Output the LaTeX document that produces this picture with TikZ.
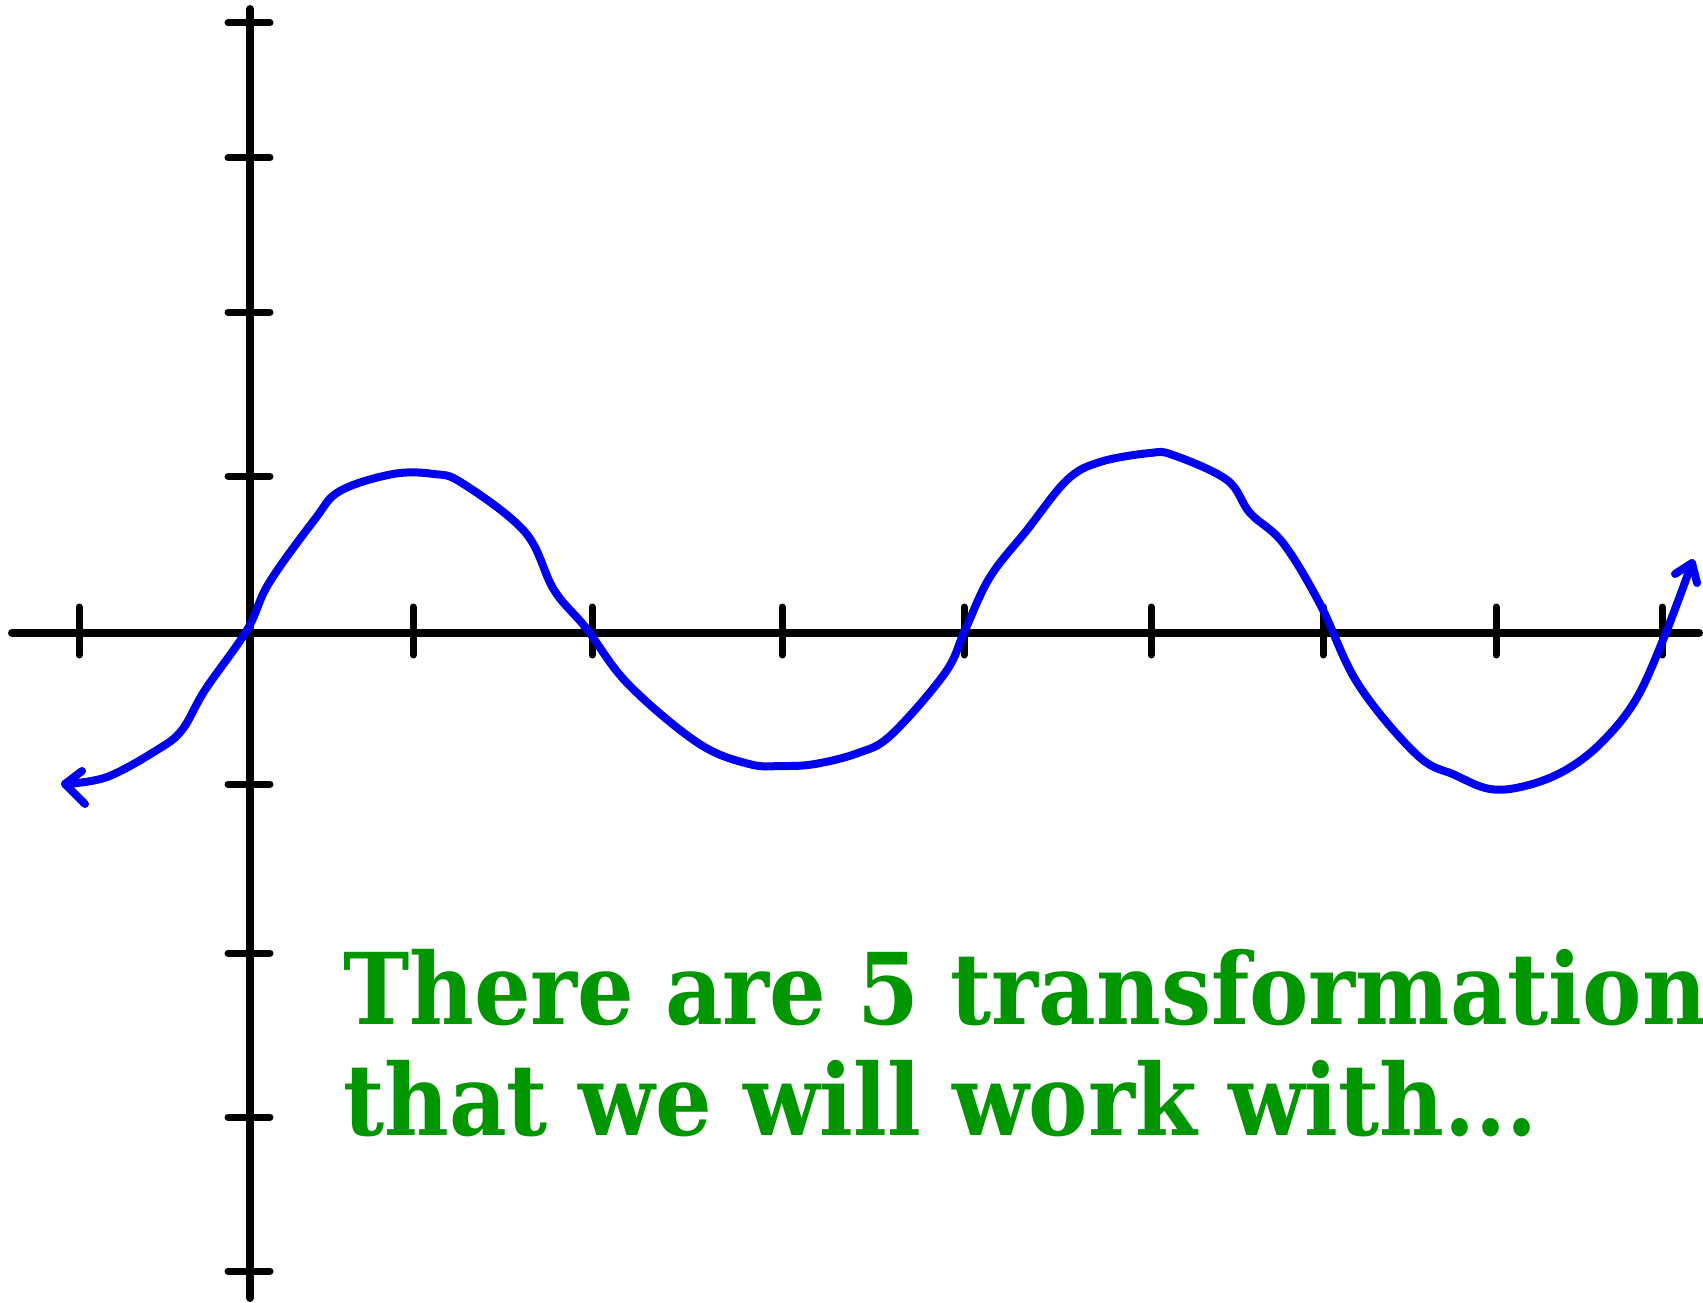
\documentclass[tikz,border=0pt]{standalone}
\usepackage{fontspec}
\setmainfont{DejaVu Serif Condensed}
\definecolor{txtgreen}{RGB}{0,150,0}
\definecolor{curveblue}{RGB}{0,0,240}
\tikzset{
  axisline/.style={line width=8pt, line cap=round, black},
  tickmark/.style={line width=7pt, line cap=round, black},
  wave/.style={line width=8pt, line cap=round, line join=round, curveblue},
  label/.style={text=txtgreen, font=\fontsize{99}{111}\selectfont\bfseries, inner sep=0pt}
}
\begin{document}
\begin{tikzpicture}[x=1pt,y=-1pt]
\useasboundingbox (0,0) rectangle (1703,1303);
\fill[white] (0,0) rectangle (1703,1303);
% axes
\coordinate (xl) at (12,633);
\coordinate (xr) at (1699,633);
\coordinate (yt) at (250,9);
\coordinate (yb) at (250,1298);
\draw[axisline] (xl) -- (xr);
\draw[axisline] (yt) -- (yb);
% x ticks
\foreach \x in {79,413,592,782,964,1151,1323,1496,1662}
  \draw[tickmark] (\x,607) -- (\x,655);
% y ticks
\foreach \y in {23,158,312,476,784,953,1117,1271}
  \draw[tickmark] (228,\y) -- (270,\y);
% wave
\coordinate (lend) at (65,784);
\coordinate (rend) at (1692,563);
\draw[wave] plot[smooth, tension=0.6] coordinates {
 (lend) (107,777) (157,750) (182,730) (205,690)
 (247,630) (269,583) (315,519) (340,491)
 (393,474) (434,474) (462,483) (525,532)
 (554,590) (586,628) (628,684) (698,743)
 (749,764) (782,766) (815,764) (858,753) (891,735)
 (945,673) (965,630) (990,577) (1027,530) (1067,480) (1100,462)
 (1150,453) (1173,455) (1227,480) (1250,513) (1283,543) (1320,604)
 (1358,684) (1417,755) (1455,775) (1490,789) (1525,786) (1564,771)
 (1600,744) (1635,701) (1663,640) (rend)};
% arrow barbs
\coordinate (lb1) at (82,771);
\coordinate (lb2) at (85,804);
\coordinate (rb1) at (1675,574);
\coordinate (rb2) at (1697,583);
\draw[wave] (lb1) -- (lend) -- (lb2);
\draw[wave] (rb1) -- (rend) -- (rb2);
% text
\node[label, anchor=base west] (line1) at (343,1024) {There are 5 transformations};
\node[label, anchor=base west] (line2) at (343,1135) {that we will work with...};
\end{tikzpicture}
\end{document}
